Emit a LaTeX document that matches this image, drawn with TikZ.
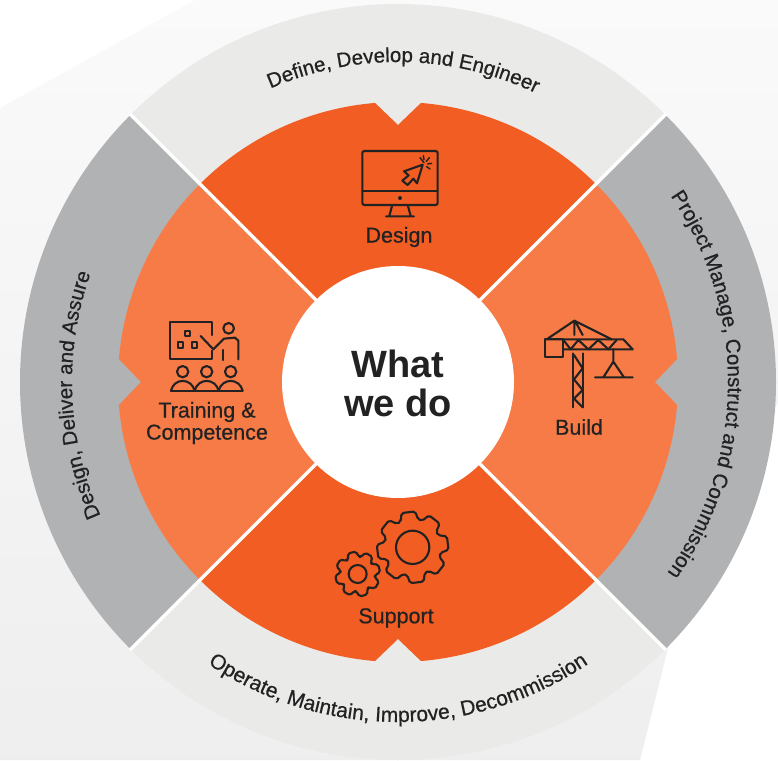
\documentclass[tikz,border=0pt]{standalone}
\usepackage{fontspec}
\usetikzlibrary{decorations.text}
\setmainfont{Liberation Sans}
\newfontfamily\medfont[FakeBold=0.6]{Liberation Sans}
\definecolor{darkor}{HTML}{F15D22}
\definecolor{lightor}{HTML}{F77B46}
\definecolor{greyseg}{HTML}{B1B2B4}
\definecolor{lightseg}{HTML}{EAEAE9}
\definecolor{ink}{HTML}{222222}
\newcommand\ringfont{\fontsize{20.5}{20.5}\selectfont\medfont\color{ink}}
\newcommand\ringfontb{\fontsize{21}{21}\selectfont\medfont\color{ink}}
\tikzset{
  lab/.style={font=\fontsize{21.5}{22}\selectfont\medfont,text=ink,align=center,inner sep=0pt},
  ico/.style={draw=ink,line width=2.1pt,line join=round,line cap=round},
  ringtext/.style={decorate,decoration={text along path,text align={center},text={#1}}},
  zoomed/.style={shift={#1},scale=1/3}
}
\newcommand\gear[6]{% cx cy root outer phase hole
  \begin{scope}[shift={(#1,#2)}]
    \draw[ico,rounded corners=2pt] (#5-18:#3)
      \foreach \a in {0,45,...,315} { -- ({#5+\a-18}:#3) -- ({#5+\a-11}:#4) -- ({#5+\a+11}:#4) -- ({#5+\a+18}:#3) } -- cycle;
    \draw[ico] (0,0) circle[radius=#6];
  \end{scope}}
\begin{document}
\begin{tikzpicture}[x=1pt,y=1pt]
\useasboundingbox (-398,-378) rectangle (380,382);
\fill[white] (-398,-378) rectangle (380,382);
\shade[top color=white!98!black,bottom color=white!93.5!black]
  (-398,274) -- (-203,382) -- (380,382) -- (380,-20) -- (272,-258) -- (242,-378) -- (-398,-378) -- cycle;
% outer ring
\fill[lightseg] (0,0) -- (45:378) arc[start angle=45,end angle=135,radius=378] -- cycle;
\fill[lightseg] (0,0) -- (225:378) arc[start angle=225,end angle=315,radius=378] -- cycle;
\fill[greyseg] (0,0) -- (135:378) arc[start angle=135,end angle=225,radius=378] -- cycle;
\fill[greyseg] (0,0) -- (-45:378) arc[start angle=-45,end angle=45,radius=378] -- cycle;
% orange sectors with notches
\fill[darkor] (0,0) -- (45:280) arc[start angle=45,end angle=85.3,radius=280] -- (90:257) -- (94.7:280) arc[start angle=94.7,end angle=135,radius=280] -- cycle;
\fill[lightor] (0,0) -- (135:280) arc[start angle=135,end angle=175.3,radius=280] -- (180:257) -- (184.7:280) arc[start angle=184.7,end angle=225,radius=280] -- cycle;
\fill[darkor] (0,0) -- (225:280) arc[start angle=225,end angle=265.3,radius=280] -- (270:257) -- (274.7:280) arc[start angle=274.7,end angle=315,radius=280] -- cycle;
\fill[lightor] (0,0) -- (315:280) arc[start angle=315,end angle=355.3,radius=280] -- (0:257) -- (4.7:280) arc[start angle=4.7,end angle=45,radius=280] -- cycle;
% separators
\coordinate (c1) at (45:379); \coordinate (c2) at (225:379);
\coordinate (c3) at (135:379); \coordinate (c4) at (315:379);
\draw[white,line width=3.5pt] (c1) -- (c2);
\draw[white,line width=3.5pt] (c3) -- (c4);
% centre
\node[circle,fill=white,minimum size=232pt,inner sep=0pt] (hub) at (0,0) {};
\node[font=\fontsize{38}{38}\selectfont\bfseries,text=ink,align=center,inner sep=0pt] (what) at (0,-1) {What\\[1pt]we do};
% ring texts
\path[ringtext={|\ringfont|Define, Develop and Engineer}] (119:320) arc[start angle=119,end angle=59,radius=320];
\path[ringtext={|\ringfont|Project Manage, Construct and Commission}] (44.5:330) arc[start angle=44.5,end angle=-45.5,radius=330];
\path[ringtext={|\ringfont|Design, Deliver and Assure}] (217.4:326) arc[start angle=217.4,end angle=147.4,radius=326];
\path[ringtext={|\ringfontb|Operate, Maintain, Improve, Decommission}] (230:340) arc[start angle=230,end angle=310,radius=340];
% labels and icons, in picture pixels
\begin{scope}[shift={(-398,382)},yscale=-1]
\node[lab] (design) at (399,237) {Design};
\node[lab] (build) at (579,427) {Build};
\node[lab] (support) at (396,618) {Support};
\node[lab] (training) at (207,423) {Training \&\\Competence};
% monitor
\begin{scope}[zoomed={(320,90)}]
  \draw[ico,rounded corners=2pt] (127,183) rectangle (353,345);
  \draw[ico] (127,303) -- (353,303);
  \fill[ink] (240,324) circle[radius=6];
  \draw[ico] (216,348) -- (208,378) (264,348) -- (272,378) (198,379) -- (282,379);
  \draw[ico] (308,224) -- (252,244) -- (266,256) -- (247,272) -- (263,285) -- (280,266) -- (291,280) -- cycle;
  \draw[ico,line width=1.4pt] (300,203) -- (312,218) (310,197) -- (312,209) (328,203) -- (319,214) (335,220) -- (323,222) (330,237) -- (320,230);
\end{scope}
% crane
\begin{scope}[zoomed={(520,300)}]
  \draw[ico] (80,118) -- (163,62) -- (275,118) (163,62) -- (163,105) (168,68) -- (188,105);
  \draw[ico] (75,118) -- (310,118) -- (338,148) -- (130,148);
  \draw[ico] (75,118) rectangle (130,172);
  \draw[ico] (130,120) -- (152,148) -- (175,120) -- (205,148) -- (235,120) -- (265,148) -- (290,120);
  \draw[ico] (160,160) -- (160,322) (188,160) -- (188,322);
  \draw[ico] (162,165) -- (188,205) -- (162,238) -- (188,270) -- (162,296) -- (188,322);
  \draw[ico] (280,148) -- (280,185) -- (250,232) (280,185) -- (312,232) (225,232) -- (338,232);
\end{scope}
% trainer
\begin{scope}[zoomed={(100,300)}]
  \draw[ico] (337,105) -- (337,67) -- (210,67) -- (210,178) -- (337,178) -- (337,152);
  \draw[ico] (254,92) rectangle (270,107) (234,127) rectangle (250,144) (275,127) rectangle (292,144);
  \draw[ico] (386,85) circle[radius=16];
  \draw[ico] (302,108) -- (340,148) -- (372,116) -- (405,113) -- (415,122) -- (415,178);
  \draw[ico] (368,150) -- (368,180);
  \foreach \x in {248,320,392} \draw[ico] (\x,215) circle[radius=17];
  \draw[ico] (213,272) -- (428,272);
  \draw[ico] (213,272) .. controls (222,233) and (274,233) .. (284,272);
  \draw[ico] (284,272) .. controls (294,233) and (346,233) .. (356,272);
  \draw[ico] (356,272) .. controls (366,233) and (418,233) .. (428,272);
\end{scope}
% gears
\begin{scope}[zoomed={(320,500)}]
  \gear{278}{142}{85}{108}{263}{50}
  \gear{113}{222}{52}{68}{255}{27}
\end{scope}
\end{scope}
\end{tikzpicture}
\end{document}
